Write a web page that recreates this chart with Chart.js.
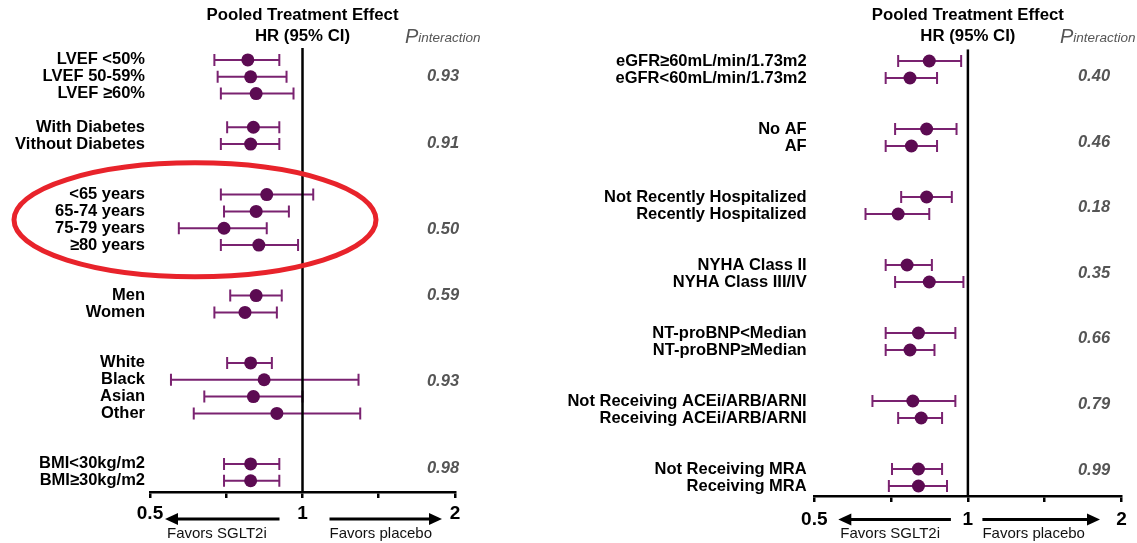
<!DOCTYPE html>
<html>
<head>
<meta charset="utf-8">
<script src="https://cdn.jsdelivr.net/npm/chart.js@4.4.1/dist/chart.umd.min.js"></script>
<style>
  body { margin: 0; background: #fff; }
  #wrap { position: relative; width: 1137px; height: 543px; overflow: hidden; }
  .panel { position: absolute; top: 0; height: 543px; }
  #leftPanel { left: 0; width: 540px; }
  #rightPanel { left: 540px; width: 597px; }
</style>
</head>
<body>
<div id="wrap">
  <div class="panel" id="leftPanel"><canvas id="leftChart"></canvas></div>
  <div class="panel" id="rightPanel"><canvas id="rightChart"></canvas></div>
</div>
<script>
// left panel data
var leftLabels = ['LVEF <50%', 'LVEF 50-59%', 'LVEF \u226560%', 'With Diabetes', 'Vithout Diabetes',
  '<65 years', '65-74 years', '75-79 years', '\u226580 years', 'Men', 'Women',
  'White', 'Black', 'Asian', 'Other', 'BMI<30kg/m2', 'BMI\u226530kg/m2'];
var leftRows = [0, 1, 2, 4, 5, 8, 9, 10, 11, 14, 15, 18, 19, 20, 21, 24, 25];
var leftHR = [0.78, 0.79, 0.81, 0.80, 0.79, 0.85, 0.81, 0.70, 0.82, 0.81, 0.77, 0.79, 0.84, 0.80, 0.89, 0.79, 0.79];
var leftLo = [0.67, 0.68, 0.69, 0.71, 0.69, 0.69, 0.70, 0.57, 0.69, 0.72, 0.67, 0.71, 0.55, 0.64, 0.61, 0.70, 0.70];
var leftHi = [0.90, 0.93, 0.96, 0.90, 0.90, 1.05, 0.94, 0.85, 0.98, 0.91, 0.89, 0.87, 1.29, 1.00, 1.30, 0.90, 0.90];
var leftPRows = [1, 4.95, 10.05, 14, 19.1, 24.25];
var leftP = ['0.93', '0.91', '0.50', '0.59', '0.93', '0.98'];

// right panel data
var rightLabels = ['eGFR\u226560mL/min/1.73m2', 'eGFR<60mL/min/1.73m2', 'No AF', 'AF',
  'Not Recently Hospitalized', 'Recently Hospitalized', 'NYHA Class II', 'NYHA Class III/IV',
  'NT-proBNP<Median', 'NT-proBNP\u2265Median', 'Not Receiving ACEi/ARB/ARNI', 'Receiving ACEi/ARB/ARNI',
  'Not Receiving MRA', 'Receiving MRA'];
var rightRows = [0, 1, 4, 5, 8, 9, 12, 13, 16, 17, 20, 21, 24, 25];
var rightHR = [0.84, 0.77, 0.83, 0.775, 0.83, 0.73, 0.76, 0.84, 0.80, 0.77, 0.78, 0.81, 0.80, 0.80];
var rightLo = [0.73, 0.69, 0.72, 0.69, 0.74, 0.63, 0.69, 0.72, 0.69, 0.69, 0.65, 0.73, 0.71, 0.70];
var rightHi = [0.97, 0.87, 0.95, 0.87, 0.93, 0.84, 0.85, 0.98, 0.945, 0.86, 0.945, 0.89, 0.89, 0.91];
var rightPRows = [0.93, 4.77, 8.6, 12.5, 16.3, 20.2, 24.06];
var rightP = ['0.40', '0.46', '0.18', '0.35', '0.66', '0.79', '0.99'];

// x axis (log) ticks
var xTickVals = [0.5, 0.7071, 1, 1.4142, 2];
var xTickLabels = ['0.5', '', '1', '', '2'];

var FONT = "'Liberation Sans', Arial, Helvetica, sans-serif";

function arrow(ctx, xFrom, xTo, y) {
  var dir = xTo > xFrom ? 1 : -1;
  ctx.beginPath();
  ctx.moveTo(xFrom, y);
  ctx.lineTo(xTo - dir * 10, y);
  ctx.stroke();
  ctx.beginPath();
  ctx.moveTo(xTo, y);
  ctx.lineTo(xTo - dir * 13, y - 6);
  ctx.lineTo(xTo - dir * 13, y + 6);
  ctx.closePath();
  ctx.fill();
}

var forestDecor = {
  id: 'forestDecor',
  beforeDatasetsDraw: function (chart, args, opts) {
    var ctx = chart.ctx, x = chart.scales.x, y = chart.scales.y;
    ctx.save();
    ctx.strokeStyle = '#7a2270';
    ctx.lineWidth = 2;
    opts.lo.forEach(function (lo, i) {
      var py = y.getPixelForValue(opts.rows[i]);
      var x0 = x.getPixelForValue(lo), x1 = x.getPixelForValue(opts.hi[i]);
      ctx.beginPath();
      ctx.moveTo(x0, py); ctx.lineTo(x1, py);
      ctx.moveTo(x0, py - 6); ctx.lineTo(x0, py + 6);
      ctx.moveTo(x1, py - 6); ctx.lineTo(x1, py + 6);
      ctx.stroke();
    });
    ctx.restore();
  },
  afterDraw: function (chart, args, opts) {
    var ctx = chart.ctx, x = chart.scales.x, y = chart.scales.y, area = chart.chartArea;
    var xOne = x.getPixelForValue(1), xLo = x.getPixelForValue(0.5), xHi = x.getPixelForValue(2);
    ctx.save();
    // column header
    ctx.fillStyle = '#000';
    ctx.font = 'bold 16.8px ' + FONT;
    ctx.textAlign = 'center';
    ctx.textBaseline = 'middle';
    ctx.fillText('Pooled Treatment Effect', xOne, 15);
    ctx.fillText('HR (95% CI)', xOne, 36);

    // P interaction header
    ctx.fillStyle = '#555';
    ctx.textAlign = 'left';
    ctx.textBaseline = 'alphabetic';
    ctx.font = 'italic 20px ' + FONT;
    var px = xHi + opts.pHeadDx;
    ctx.fillText('P', px, 43);
    var pw = ctx.measureText('P').width;
    ctx.font = 'italic 13.5px ' + FONT;
    ctx.fillText('interaction', px + pw, 42);

    // P values
    ctx.font = 'italic bold 16.5px ' + FONT;
    ctx.textAlign = 'center';
    ctx.textBaseline = 'middle';
    opts.pVals.forEach(function (p, i) {
      ctx.fillText(p, xHi + opts.pDx, y.getPixelForValue(opts.pRows[i]));
    });

    // favours arrows
    var ay = area.bottom + opts.arrowDy;
    ctx.fillStyle = '#000';
    ctx.strokeStyle = '#000';
    ctx.lineWidth = 3;
    var lTip = xLo + opts.arr[0], lTail = xOne - opts.arr[1];
    var rTail = xOne + opts.arr[2], rTip = xHi - opts.arr[3];
    arrow(ctx, lTail, lTip, ay);
    arrow(ctx, rTail, rTip, ay);
    ctx.font = '15px ' + FONT;
    ctx.fillStyle = '#111';
    ctx.textAlign = 'left';
    ctx.fillText('Favors SGLT2i', lTip + 2, 534);
    ctx.fillText('Favors placebo', rTail, 534);

    // highlight ring
    if (opts.ring) {
      ctx.strokeStyle = '#e8232b';
      ctx.lineWidth = 5;
      ctx.beginPath();
      ctx.ellipse(area.left + opts.ring.dx, y.getPixelForValue(opts.ring.row), opts.ring.rx, opts.ring.ry, 0, 0, Math.PI * 2);
      ctx.stroke();
    }
    ctx.restore();
  }
};

function makeForest(canvasId, cfg) {
  var points = cfg.hr.map(function (v, i) { return { x: v, y: cfg.rows[i] }; });
  return new Chart(document.getElementById(canvasId), {
    type: 'scatter',
    data: {
      datasets: [{
        data: points,
        pointRadius: 6.5,
        pointHoverRadius: 6.5,
        backgroundColor: '#5c0b52',
        borderWidth: 0
      }, {
        type: 'line',
        data: [{ x: 1, y: cfg.yMin }, { x: 1, y: cfg.yMax }],
        borderColor: '#000',
        borderWidth: 2.5,
        pointRadius: 0,
        fill: false
      }]
    },
    options: {
      responsive: true,
      maintainAspectRatio: false,
      animation: false,
      events: [],
      layout: { padding: { top: cfg.top, right: cfg.padRight, left: 0, bottom: 0 } },
      plugins: {
        legend: { display: false },
        tooltip: { enabled: false },
        forestDecor: {
          lo: cfg.lo, hi: cfg.hi, rows: cfg.rows,
          pRows: cfg.pRows, pVals: cfg.pVals,
          pDx: cfg.pDx, pHeadDx: cfg.pHeadDx,
          arrowDy: cfg.arrowDy, arr: cfg.arr,
          ring: cfg.ring
        }
      },
      scales: {
        x: {
          type: 'logarithmic',
          min: 0.5,
          max: 2,
          afterBuildTicks: function (scale) {
            scale.ticks = xTickVals.map(function (v) { return { value: v }; });
          },
          afterFit: function (scale) { scale.height = cfg.xAxisH; },
          border: { display: true, color: '#000', width: 2.5 },
          grid: { display: true, drawOnChartArea: false, drawTicks: true, tickLength: 6, color: '#000', lineWidth: 2.5 },
          ticks: {
            autoSkip: false,
            maxRotation: 0,
            padding: cfg.tickPad,
            color: '#000',
            font: { family: FONT, size: 19, weight: 'bold' },
            callback: function (v) { return xTickLabels[xTickVals.indexOf(v)]; }
          }
        },
        y: {
          type: 'linear',
          reverse: true,
          min: cfg.yMin,
          max: cfg.yMax,
          afterBuildTicks: function (scale) {
            scale.ticks = cfg.rows.map(function (r) { return { value: r }; });
          },
          afterFit: function (scale) { scale.width = cfg.yAxisW; },
          border: { display: false },
          grid: { display: false, drawTicks: false },
          ticks: {
            autoSkip: false,
            padding: cfg.labelPad,
            color: '#000',
            font: { family: FONT, size: 16.5, weight: 'bold' },
            callback: function (v) { return cfg.labels[cfg.rows.indexOf(v)]; }
          }
        }
      }
    },
    plugins: [forestDecor]
  });
}

makeForest('leftChart', {
  labels: leftLabels, rows: leftRows, hr: leftHR, lo: leftLo, hi: leftHi,
  pRows: leftPRows, pVals: leftP,
  yMin: -0.71, yMax: 25.67,
  top: 48, padRight: 85, xAxisH: 51, yAxisW: 150, labelPad: 5, tickPad: 4,
  pDx: -12, pHeadDx: -50, arrowDy: 27, arr: [15, 23, 27, 13],
  ring: { dx: 45, row: 9.5, rx: 181, ry: 57 }
});

makeForest('rightChart', {
  labels: rightLabels, rows: rightRows, hr: rightHR, lo: rightLo, hi: rightHi,
  pRows: rightPRows, pVals: rightP,
  yMin: -0.69, yMax: 25.59,
  top: 49.3, padRight: 15.5, xAxisH: 47, yAxisW: 274.3, labelPad: 7.6, tickPad: 6.6,
  pDx: -27.5, pHeadDx: -61.5, arrowDy: 23.5, arr: [24, 17, 14.5, 21.5],
  ring: null
});
</script>
</body>
</html>
